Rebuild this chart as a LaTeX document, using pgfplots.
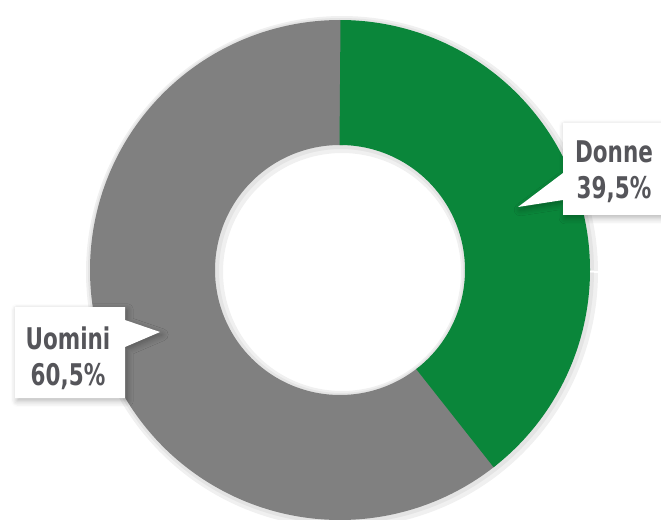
\documentclass[border=0pt]{standalone}
\usepackage{pgfplots}
\pgfplotsset{compat=1.18}
\usepackage{pgfplotstable}
\usepackage{fontspec}
\newfontfamily\labfont{DejaVu Sans Condensed}[FakeStretch=0.8]
\usetikzlibrary{shadows.blur}
\definecolor{donne}{RGB}{10,134,58}
\definecolor{uomini}{RGB}{128,128,128}
\definecolor{labtext}{RGB}{85,85,90}

\pgfplotstableread{
label value
Donne 39.5
Uomini 60.5
}\shares
\pgfplotstablegetelem{0}{value}\of\shares \let\vA\pgfplotsretval
\pgfplotstablegetelem{1}{value}\of\shares \let\vB\pgfplotsretval
\pgfmathsetmacro\aEnd{90-3.6*\vA}
\pgfmathsetmacro\bEnd{\aEnd-3.6*\vB}

\begin{document}
\begin{tikzpicture}
\begin{axis}[scale only axis, width=6.61cm, height=5.19cm,
  xmin=0, xmax=661, ymin=0, ymax=519, axis lines=none, clip=false]
% soft shadow
\addplot[black, opacity=0.06, line width=1.37cm, domain=0:360, samples=200, variable=\t]
  ({342+187.5*cos(\t)},{247+187.5*sin(\t)});
\addplot[black, opacity=0.05, line width=1.31cm, domain=0:360, samples=200, variable=\t]
  ({341+187.5*cos(\t)},{248+187.5*sin(\t)});
% donut
\addplot[uomini, line width=1.25cm, domain=\bEnd-1:\aEnd+1, samples=200, variable=\t]
  ({340+187.5*cos(\t)},{249+187.5*sin(\t)});
\addplot[donne, line width=1.25cm, domain=\aEnd:90, samples=150, variable=\t]
  ({340+187.5*cos(\t)},{249+187.5*sin(\t)});
% labels
\fill[white, blur shadow={shadow blur steps=6, shadow xshift=0.6pt, shadow yshift=-0.8pt, shadow opacity=30}]
  (axis cs:563,396) -- (axis cs:661,396) -- (axis cs:661,304) -- (axis cs:563,304)
  -- (axis cs:563,319) -- (axis cs:518,312) -- (axis cs:563,346) -- cycle;
\node[text=labtext, align=center, font=\labfont\bfseries\fontsize{8.5}{10.3}\selectfont]
  at (axis cs:614,347) {Donne\\39,5\%};
\fill[white, blur shadow={shadow blur steps=6, shadow xshift=0.6pt, shadow yshift=-0.8pt, shadow opacity=30}]
  (axis cs:15,212) -- (axis cs:125,212) -- (axis cs:125,199) -- (axis cs:160,187)
  -- (axis cs:125,172) -- (axis cs:125,121) -- (axis cs:15,121) -- cycle;
\node[text=labtext, align=center, font=\labfont\bfseries\fontsize{8.5}{10.3}\selectfont]
  at (axis cs:68,161) {Uomini\\60,5\%};
\end{axis}
\pgfresetboundingbox
\path[use as bounding box] (0,0) rectangle (6.61cm,5.19cm);
\end{tikzpicture}
\end{document}
